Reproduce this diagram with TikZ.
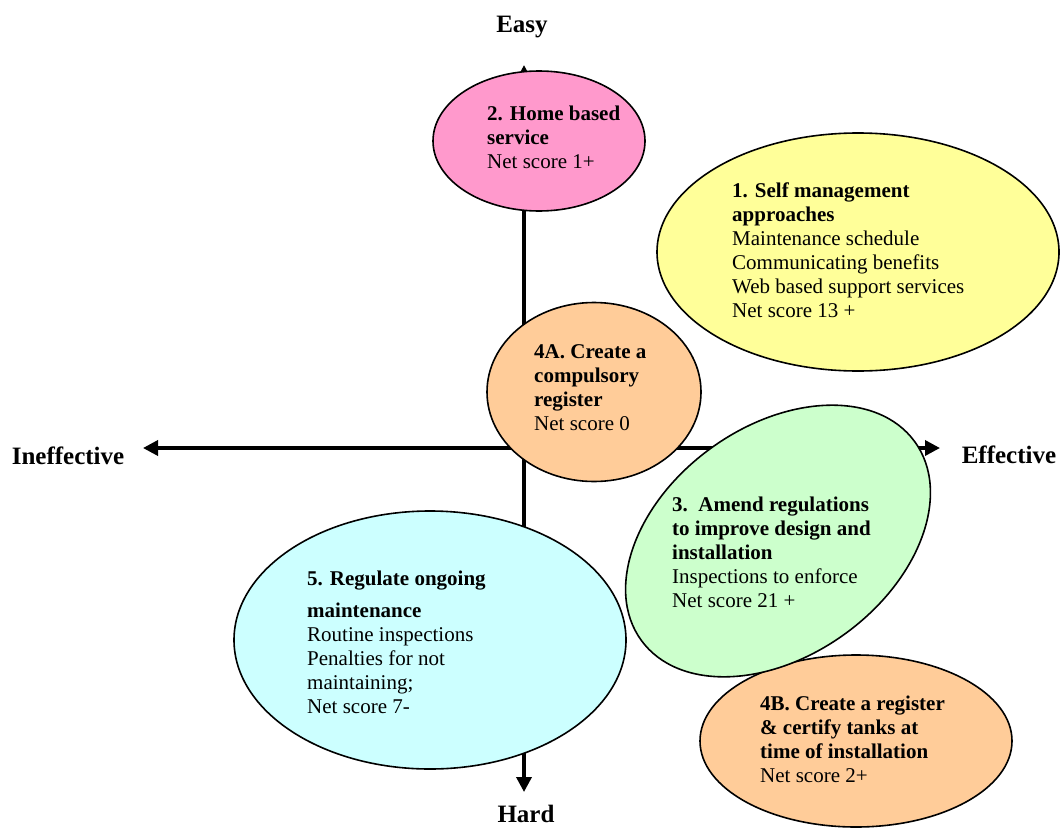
\documentclass[tikz,border=0pt]{standalone}
\usepackage{fontspec}
\setmainfont{Liberation Serif}
\usetikzlibrary{shapes.geometric,arrows.meta}
\definecolor{pinkfill}{HTML}{FF99CC}
\definecolor{yellowfill}{HTML}{FFFF99}
\definecolor{orangefill}{HTML}{FFCC99}
\definecolor{greenfill}{HTML}{CCFFCC}
\definecolor{cyanfill}{HTML}{CCFFFF}
\newcommand\blk[1]{\begin{tabular}[t]{@{}l@{}}#1\end{tabular}}
\begin{document}
\begin{tikzpicture}[x=1pt,y=-1pt,
  oval/.style={draw=black,line width=1.6pt,ellipse,inner sep=0pt},
  txt/.style={inner sep=0pt,anchor=base west,font=\fontsize{21}{24}\selectfont},
  axlabel/.style={inner sep=0pt,anchor=base,font=\fontsize{25}{28}\selectfont\bfseries},
  axis/.style={line width=3.5pt,-{Triangle[length=15pt,width=15pt]}}]
\useasboundingbox (0,0) rectangle (1062,827);
% axes
\coordinate (O) at (524,448);
\coordinate (L) at (143,448);
\coordinate (R) at (940,448);
\coordinate (T) at (524,65);
\coordinate (B) at (524,792);
\draw[axis] (O) -- (L);
\draw[axis] (O) -- (R);
\draw[axis] (O) -- (T);
\draw[axis] (O) -- (B);
% axis labels
\node[axlabel] (easy) at (522,32) {Easy};
\node[axlabel] (hard) at (526,822) {Hard};
\node[axlabel] (ineff) at (68,464) {Ineffective};
\node[axlabel] (eff) at (1009,463) {Effective};
% ellipses
\node[oval,fill=pinkfill,minimum width=212pt,minimum height=140pt] (e2) at (539,141) {};
\node[oval,fill=yellowfill,minimum width=402pt,minimum height=238pt] (e1) at (858,252) {};
\node[oval,fill=orangefill,minimum width=214pt,minimum height=179pt] (e4a) at (594,392) {};
\node[oval,fill=cyanfill,minimum width=392pt,minimum height=258pt] (e5) at (430,640) {};
\node[oval,fill=orangefill,minimum width=312pt,minimum height=172pt] (e4b) at (856,741) {};
\node[oval,fill=greenfill,minimum width=338pt,minimum height=229pt,rotate=36] (e3) at (778,541) {};
% texts
\node[txt] (t2) at (487,120) {\blk{\textbf{2. Home based}\\ \textbf{service}\\ Net score 1+}};
\node[txt] (t1) at (732,197) {\blk{\textbf{1. Self management}\\ \textbf{approaches}\\ Maintenance schedule\\ Communicating benefits\\ Web based support services\\ Net score 13 +}};
\node[txt] (t4a) at (534,358) {\blk{\textbf{4A. Create a}\\ \textbf{compulsory}\\ \textbf{register}\\ Net score 0}};
\node[txt] (t3) at (672,511) {\blk{\textbf{3.\ \ Amend regulations}\\ \textbf{to improve design and}\\ \textbf{installation}\\ Inspections to enforce\\ Net score 21 +}};
\node[txt] (t5) at (307,585) {\blk{\textbf{5. Regulate ongoing}\\[8pt] \textbf{maintenance}\\ Routine inspections\\ Penalties for not\\ maintaining;\\ Net score 7-}};
\node[txt] (t4b) at (760,710) {\blk{\textbf{4B. Create a register}\\ \textbf{\& certify tanks at}\\ \textbf{time of installation}\\ Net score 2+}};
\end{tikzpicture}
\end{document}
